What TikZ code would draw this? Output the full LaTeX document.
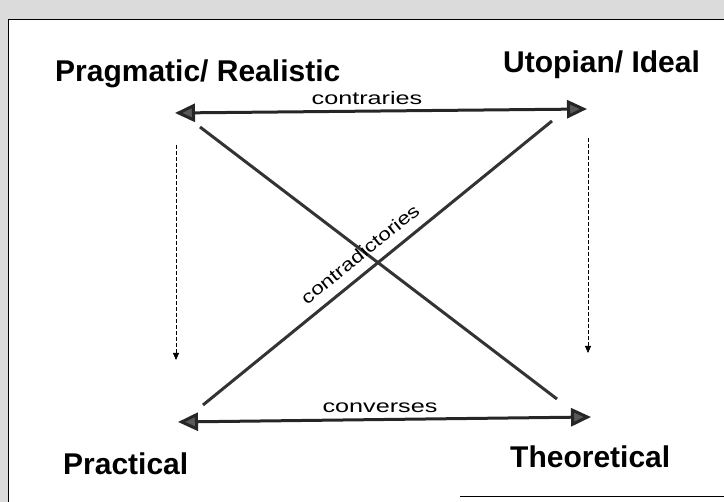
\documentclass[tikz,border=0pt]{standalone}
\usepackage{fontspec}
\setmainfont{Liberation Sans}
\usetikzlibrary{arrows.meta}
\begin{document}
\begin{tikzpicture}[x=1pt,y=-1pt,
  biglabel/.style={inner sep=0pt,anchor=base west,font=\bfseries\fontsize{30}{36}\selectfont},
  smalllabel/.style={inner sep=0pt,font=\fontsize{18}{22}\selectfont},
  mainarrow/.style={line width=3pt,draw=black!85,
    {Triangle[length=20pt,width=18pt,fill=black!65]}-{Triangle[length=20pt,width=18pt,fill=black!65]}},
  diagline/.style={line width=3pt,draw=black!80},
  flowarrow/.style={line width=0.8pt,dash pattern=on 4pt off 2pt,-{Triangle[length=7pt,width=6pt]}}]
\useasboundingbox (0,0) rectangle (724,502);
% scanned page background outside the frame
\fill[black!14] (0,0) rectangle (724,20);
\fill[black!14] (0,20) rectangle (8,502);
\draw[line width=1pt] (8,502) -- (8,20) -- (724,20);
\draw[line width=1pt] (460,497) -- (724,497);
% labels
\node[biglabel] (prag) at (55,82) {Pragmatic/ Realistic};
\node[biglabel] (utop) at (503,73) {Utopian/ Ideal};
\node[biglabel] (prac) at (63,475) {Practical};
\node[biglabel] (theo) at (510,468) {Theoretical};
% arrow ends
\coordinate (tl) at (175,113);
\coordinate (tr) at (587,109);
\coordinate (bl) at (178,422);
\coordinate (br) at (591,417);
\coordinate (d1s) at (200,127);
\coordinate (d1e) at (557,399);
\coordinate (d2s) at (203,405);
\coordinate (d2e) at (552,121);
\coordinate (vls) at (176,145);
\coordinate (vle) at (176,360);
\coordinate (vrs) at (588,138);
\coordinate (vre) at (588,353);
% connectors
\draw[mainarrow] (tl) -- (tr);
\draw[mainarrow] (bl) -- (br);
\draw[diagline] (d1s) -- (d1e);
\draw[diagline] (d2s) -- (d2e);
\draw[flowarrow] (vls) -- (vle);
\draw[flowarrow] (vrs) -- (vre);
% connector labels
\node[smalllabel,anchor=base] (contr) at (367,105) {\scalebox{1.4}[1]{contraries}};
\node[smalllabel,anchor=base] (conv) at (380,413) {\scalebox{1.4}[1]{converses}};
\node[smalllabel,anchor=center,rotate=39] (contd) at (360,254) {\scalebox{1.25}[1]{contradictories}};
\end{tikzpicture}
\end{document}
